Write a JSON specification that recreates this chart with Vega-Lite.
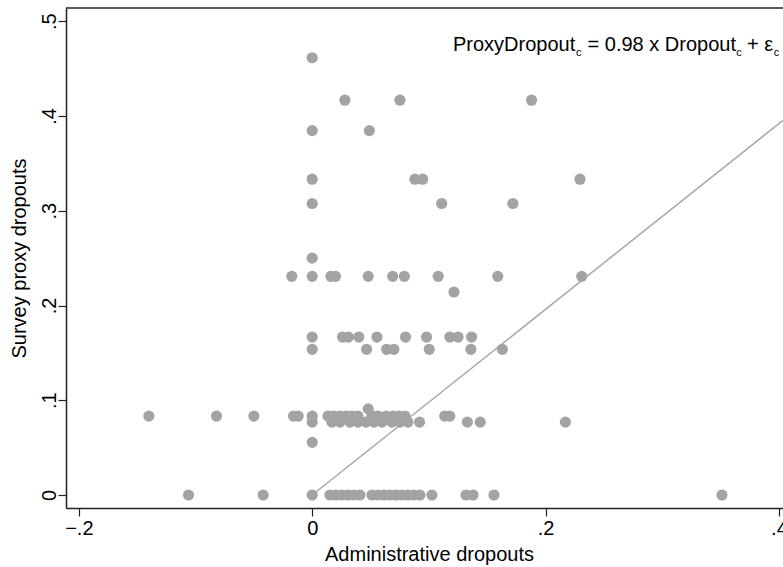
{
  "$schema": "https://vega.github.io/schema/vega-lite/v6.json",
  "width": 717,
  "height": 500,
  "autosize": {"type": "none"},
  "padding": {"left": 66, "top": 8, "right": 0, "bottom": 59},
  "background": "white",
  "config": {
    "view": {"stroke": null},
    "font": "Liberation Sans",
    "axis": {
      "grid": false,
      "domainColor": "#222222",
      "domainWidth": 1.5,
      "tickColor": "#222222",
      "tickWidth": 1.2,
      "tickSize": 8,
      "labelFont": "Liberation Sans",
      "labelFontSize": 20,
      "labelColor": "#000000",
      "titleFont": "Liberation Sans",
      "titleFontSize": 20,
      "titleFontWeight": "normal",
      "titleColor": "#000000"
    }
  },
  "datasets": {
    "points": [
      {"admin": -0.106, "proxy": 0}, {"admin": -0.042, "proxy": 0}, {"admin": 0, "proxy": 0},
      {"admin": 0.0152, "proxy": 0}, {"admin": 0.0203, "proxy": 0}, {"admin": 0.0255, "proxy": 0},
      {"admin": 0.0306, "proxy": 0}, {"admin": 0.0357, "proxy": 0}, {"admin": 0.0409, "proxy": 0},
      {"admin": 0.0512, "proxy": 0}, {"admin": 0.0563, "proxy": 0}, {"admin": 0.0615, "proxy": 0},
      {"admin": 0.0666, "proxy": 0}, {"admin": 0.0718, "proxy": 0}, {"admin": 0.0769, "proxy": 0},
      {"admin": 0.082, "proxy": 0}, {"admin": 0.0872, "proxy": 0}, {"admin": 0.0923, "proxy": 0},
      {"admin": 0.1026, "proxy": 0}, {"admin": 0.1318, "proxy": 0}, {"admin": 0.1378, "proxy": 0},
      {"admin": 0.1558, "proxy": 0}, {"admin": 0.3512, "proxy": 0},
      {"admin": 0, "proxy": 0.0556},
      {"admin": 0, "proxy": 0.0769}, {"admin": 0.0169, "proxy": 0.0769}, {"admin": 0.0237, "proxy": 0.0769},
      {"admin": 0.0323, "proxy": 0.0769}, {"admin": 0.0392, "proxy": 0.0769}, {"admin": 0.046, "proxy": 0.0769},
      {"admin": 0.0529, "proxy": 0.0769}, {"admin": 0.0598, "proxy": 0.0769}, {"admin": 0.0683, "proxy": 0.0769},
      {"admin": 0.0752, "proxy": 0.0769}, {"admin": 0.082, "proxy": 0.0769}, {"admin": 0.092, "proxy": 0.0769},
      {"admin": 0.133, "proxy": 0.0769}, {"admin": 0.144, "proxy": 0.0769}, {"admin": 0.217, "proxy": 0.0769},
      {"admin": -0.14, "proxy": 0.0833}, {"admin": -0.082, "proxy": 0.0833}, {"admin": -0.05, "proxy": 0.0833},
      {"admin": -0.016, "proxy": 0.0833}, {"admin": -0.012, "proxy": 0.0833}, {"admin": 0, "proxy": 0.0833},
      {"admin": 0.0135, "proxy": 0.0833}, {"admin": 0.0186, "proxy": 0.0833}, {"admin": 0.0237, "proxy": 0.0833},
      {"admin": 0.0289, "proxy": 0.0833}, {"admin": 0.034, "proxy": 0.0833}, {"admin": 0.0392, "proxy": 0.0833},
      {"admin": 0.0512, "proxy": 0.0833}, {"admin": 0.0563, "proxy": 0.0833}, {"admin": 0.0632, "proxy": 0.0833},
      {"admin": 0.0692, "proxy": 0.0833}, {"admin": 0.0743, "proxy": 0.0833}, {"admin": 0.0795, "proxy": 0.0833},
      {"admin": 0.1136, "proxy": 0.0833}, {"admin": 0.1179, "proxy": 0.0833},
      {"admin": 0.048, "proxy": 0.0909},
      {"admin": 0, "proxy": 0.1538}, {"admin": 0.0466, "proxy": 0.1538}, {"admin": 0.0638, "proxy": 0.1538},
      {"admin": 0.07, "proxy": 0.1538}, {"admin": 0.1003, "proxy": 0.1538}, {"admin": 0.136, "proxy": 0.1538},
      {"admin": 0.163, "proxy": 0.1538},
      {"admin": 0, "proxy": 0.1667}, {"admin": 0.026, "proxy": 0.1667}, {"admin": 0.031, "proxy": 0.1667},
      {"admin": 0.04, "proxy": 0.1667}, {"admin": 0.0555, "proxy": 0.1667}, {"admin": 0.08, "proxy": 0.1667},
      {"admin": 0.098, "proxy": 0.1667}, {"admin": 0.118, "proxy": 0.1667}, {"admin": 0.125, "proxy": 0.1667},
      {"admin": 0.1366, "proxy": 0.1667},
      {"admin": 0.1215, "proxy": 0.2143},
      {"admin": -0.0175, "proxy": 0.2308}, {"admin": 0, "proxy": 0.2308}, {"admin": 0.016, "proxy": 0.2308},
      {"admin": 0.02, "proxy": 0.2308}, {"admin": 0.048, "proxy": 0.2308}, {"admin": 0.069, "proxy": 0.2308},
      {"admin": 0.079, "proxy": 0.2308}, {"admin": 0.108, "proxy": 0.2308}, {"admin": 0.159, "proxy": 0.2308},
      {"admin": 0.231, "proxy": 0.2308},
      {"admin": 0, "proxy": 0.25},
      {"admin": 0, "proxy": 0.3077}, {"admin": 0.111, "proxy": 0.3077}, {"admin": 0.172, "proxy": 0.3077},
      {"admin": 0, "proxy": 0.3333}, {"admin": 0.088, "proxy": 0.3333}, {"admin": 0.0947, "proxy": 0.3333},
      {"admin": 0.2295, "proxy": 0.3333},
      {"admin": 0, "proxy": 0.3846}, {"admin": 0.049, "proxy": 0.3846},
      {"admin": 0.028, "proxy": 0.4167}, {"admin": 0.0752, "proxy": 0.4167}, {"admin": 0.188, "proxy": 0.4167},
      {"admin": 0, "proxy": 0.4615}
    ],
    "fit": [
      {"admin": 0, "proxy": 0},
      {"admin": 0.41, "proxy": 0.4018}
    ]
  },
  "layer": [
    {
      "data": {"name": "fit"},
      "mark": {"type": "line", "color": "#a6a6a6", "strokeWidth": 1.5, "clip": true},
      "encoding": {
        "x": {
          "field": "admin", "type": "quantitative",
          "scale": {"domain": [-0.211, 0.4035], "nice": false, "zero": false},
          "axis": {
            "values": [-0.2, 0, 0.2, 0.4],
            "labelExpr": "datum.value == 0 ? '0' : replace(format(datum.value, '.1f'), '0.', '.')",
            "title": "Administrative dropouts",
            "labelPadding": 2,
            "titlePadding": 6,
            "titleX": 363,
            "labelFlush": false
          }
        },
        "y": {
          "field": "proxy", "type": "quantitative",
          "scale": {"domain": [-0.0137, 0.514], "nice": false, "zero": false},
          "axis": {
            "values": [0, 0.1, 0.2, 0.3, 0.4, 0.5],
            "labelExpr": "datum.value == 0 ? '0' : replace(format(datum.value, '.1f'), '0.', '.')",
            "title": "Survey proxy dropouts",
            "labelAngle": -90,
            "labelAlign": "center",
            "labelBaseline": "alphabetic",
            "labelPadding": 3,
            "titlePadding": 10,
            "labelFlush": false
          }
        }
      }
    },
    {
      "data": {"name": "points"},
      "mark": {"type": "circle", "size": 125, "color": "#a3a3a3", "opacity": 1},
      "encoding": {
        "x": {"field": "admin", "type": "quantitative"},
        "y": {"field": "proxy", "type": "quantitative"}
      }
    },
    {
      "data": {"values": [{}]},
      "mark": {"type": "rule", "color": "#222222", "strokeWidth": 1.5},
      "encoding": {"y": {"datum": 0.514}}
    },
    {
      "data": {"values": [{}]},
      "mark": {"type": "text", "text": "ProxyDropout", "align": "left", "baseline": "alphabetic", "fontSize": 20, "font": "Liberation Sans", "color": "#000000"},
      "encoding": {"x": {"datum": 0.1206}, "y": {"datum": 0.4686}}
    },
    {
      "data": {"values": [{}]},
      "mark": {"type": "text", "text": "c", "align": "left", "baseline": "alphabetic", "fontSize": 11, "font": "Liberation Sans", "color": "#000000", "dy": 5},
      "encoding": {"x": {"datum": 0.2261}, "y": {"datum": 0.4686}}
    },
    {
      "data": {"values": [{}]},
      "mark": {"type": "text", "text": "= 0.98 x Dropout", "align": "left", "baseline": "alphabetic", "fontSize": 20, "font": "Liberation Sans", "color": "#000000"},
      "encoding": {"x": {"datum": 0.2360}, "y": {"datum": 0.4686}}
    },
    {
      "data": {"values": [{}]},
      "mark": {"type": "text", "text": "c", "align": "left", "baseline": "alphabetic", "fontSize": 11, "font": "Liberation Sans", "color": "#000000", "dy": 5},
      "encoding": {"x": {"datum": 0.3635}, "y": {"datum": 0.4686}}
    },
    {
      "data": {"values": [{}]},
      "mark": {"type": "text", "text": "+ ε", "align": "left", "baseline": "alphabetic", "fontSize": 20, "font": "Liberation Sans", "color": "#000000"},
      "encoding": {"x": {"datum": 0.3727}, "y": {"datum": 0.4686}}
    },
    {
      "data": {"values": [{}]},
      "mark": {"type": "text", "text": "c", "align": "left", "baseline": "alphabetic", "fontSize": 11, "font": "Liberation Sans", "color": "#000000", "dy": 5},
      "encoding": {"x": {"datum": 0.3955}, "y": {"datum": 0.4686}}
    }
  ]
}
